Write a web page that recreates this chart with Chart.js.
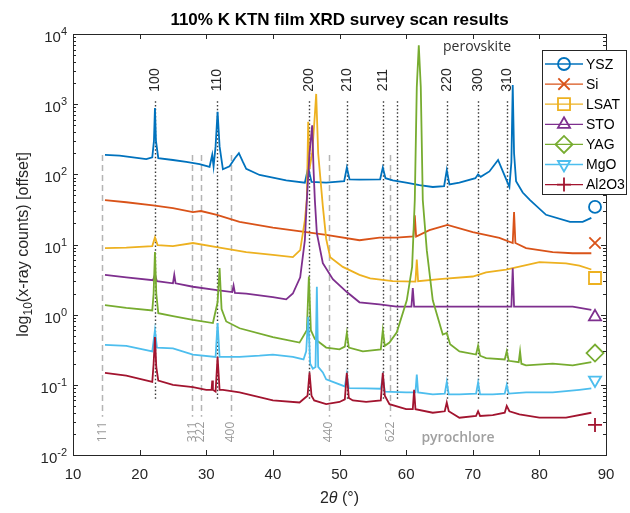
<!DOCTYPE html>
<html>
<head>
<meta charset="utf-8">
<script src="https://cdn.jsdelivr.net/npm/chart.js@4.4.1/dist/chart.umd.min.js"></script>
<style>
  html, body { margin: 0; padding: 0; background: #fff; }
</style>
</head>
<body>
<canvas id="xrd" width="630" height="513"></canvas>
<script>
// ===============================
// DATA
// ===============================
const seriesNames = ["YSZ", "Si", "LSAT", "STO", "YAG", "MgO", "Al2O3"];

const yszX = [14.8, 17, 19, 21, 21.9, 22.15, 22.3, 22.45, 22.8, 25, 27, 29, 30.5, 30.9, 31.1, 31.4, 31.7, 32.0, 32.5, 33.5, 34.3, 34.9, 35.5, 36.0, 38, 40, 42, 44.8, 45.3, 45.8, 48, 50.7, 51.1, 51.5, 53, 56.1, 56.5, 56.9, 58, 60, 62, 64, 65.7, 66.1, 66.5, 68, 70.4, 70.8, 71.2, 72.5, 73.8, 74.8, 75.5, 75.8, 76.0, 76.2, 76.5, 77.5, 78.6, 81, 84.6, 86.5, 87.8];
const yszY = [189, 185, 175, 165, 175, 300, 880, 300, 170, 160, 150, 140, 128, 190, 130, 250, 780, 250, 118, 130, 170, 200, 150, 120, 98, 90, 82, 76, 125, 78, 76, 80, 125, 85, 84, 85, 125, 88, 82, 76, 70, 66, 68, 115, 72, 76, 88, 100, 92, 110, 160, 95, 66, 150, 1870, 200, 80, 55, 43, 26.5, 21, 21, 24];

const siX = [14.8, 18, 22, 25, 28, 29.2, 31.6, 35, 40, 45, 48, 53, 56, 58.5, 61.1, 61.3, 61.5, 63.5, 66.2, 70, 74, 76.0, 76.2, 76.4, 78, 82, 85, 87.8];
const siY = [43, 40, 36, 33, 29, 30, 26.5, 21, 17.4, 15, 13.7, 11.5, 12.5, 12.5, 13, 26, 13, 16, 19, 15, 12.4, 10.5, 29, 10.5, 8.9, 7.8, 7.5, 7.5];

const lsatX = [14.8, 18, 21.9, 22.3, 22.7, 25, 28, 32, 36, 40, 43, 44.1, 44.8, 45.1, 45.3, 45.5, 45.9, 46.3, 46.5, 46.8, 47.5, 48, 48.6, 50.5, 53, 54.6, 58, 61.4, 61.6, 61.8, 65, 70, 72, 75, 80, 84, 86, 87.8];
const lsatY = [8.9, 9.0, 9.5, 12.6, 9.8, 9.5, 10.5, 9.0, 7.8, 7.1, 6.6, 8.3, 22, 45, 560, 120, 200, 700, 1400, 200, 35, 12, 6.6, 4.8, 3.7, 3.3, 3.0, 2.95, 6.1, 3.0, 3.2, 3.5, 4.0, 4.4, 5.6, 5.4, 5.0, 4.4];

const stoX = [14.8, 18, 22.0, 22.3, 22.6, 25.0, 25.2, 25.4, 28, 31.6, 33.9, 34.1, 34.3, 36, 40, 42, 43, 44.1, 44.8, 45.1, 45.5, 45.9, 46.1, 46.3, 46.6, 47.5, 49, 51.1, 53, 56, 58.6, 60.8, 61.0, 61.2, 65, 70, 75.8, 76.0, 76.2, 80, 85, 87.8];
const stoY = [3.7, 3.4, 3.1, 3.7, 3.0, 2.8, 3.7, 2.8, 2.5, 2.24, 2.1, 2.6, 2.05, 2.0, 1.78, 1.65, 2.0, 3.4, 11.5, 43, 200, 500, 120, 43, 14.5, 5.4, 3.2, 2.1, 1.5, 1.4, 1.3, 1.3, 2.4, 1.3, 1.3, 1.3, 1.3, 4.6, 1.3, 1.3, 1.3, 1.17];

const yagX = [14.8, 18, 21.9, 22.1, 22.3, 22.5, 22.8, 25, 28, 31.0, 31.7, 32.0, 32.3, 33, 35, 40, 44, 45.1, 45.4, 45.7, 46.3, 48, 50, 50.8, 51.1, 51.4, 53.5, 56.2, 56.5, 56.8, 57.5, 58.6, 60.1, 60.9, 61.3, 61.6, 61.9, 62.2, 62.5, 63.1, 64.0, 65.5, 66.1, 66.6, 68, 70.5, 70.8, 71.1, 72, 74.8, 75.1, 75.4, 76.9, 77.1, 77.3, 78, 82, 85, 87.8];
const yagY = [1.37, 1.25, 1.15, 2.0, 7.8, 2.0, 1.05, 0.95, 0.84, 0.76, 1.5, 4.6, 1.2, 0.8, 0.64, 0.48, 0.40, 0.6, 3.5, 0.6, 0.45, 0.34, 0.32, 0.35, 0.55, 0.34, 0.30, 0.32, 0.6, 0.36, 0.40, 0.56, 1.6, 4.8, 43, 1750, 6900, 1750, 43, 8.3, 1.6, 0.52, 0.55, 0.38, 0.30, 0.27, 0.36, 0.26, 0.24, 0.23, 0.30, 0.22, 0.21, 0.30, 0.2, 0.19, 0.2, 0.19, 0.21];

const mgoX = [14.8, 18, 21.9, 22.3, 22.6, 25, 28, 31.4, 31.7, 32.0, 35, 38, 40, 43, 44.6, 45.0, 45.3, 45.6, 46.0, 46.4, 46.6, 46.8, 47.5, 48, 50.8, 51.1, 51.4, 54, 56.2, 56.5, 56.8, 60, 61.4, 61.6, 61.8, 64, 65.8, 66.1, 66.4, 68, 70.5, 70.8, 71.1, 73, 74.8, 75.1, 75.4, 78, 82, 86, 87.8];
const mgoY = [0.37, 0.36, 0.30, 0.6, 0.34, 0.33, 0.27, 0.25, 0.76, 0.25, 0.25, 0.26, 0.27, 0.25, 0.23, 0.3, 0.93, 0.2, 0.17, 0.18, 2.5, 0.18, 0.15, 0.12, 0.095, 0.14, 0.09, 0.089, 0.088, 0.13, 0.08, 0.078, 0.078, 0.14, 0.078, 0.073, 0.075, 0.11, 0.073, 0.073, 0.075, 0.108, 0.073, 0.073, 0.075, 0.1, 0.075, 0.078, 0.078, 0.085, 0.089];

const alX = [14.8, 18, 21.9, 22.1, 22.3, 22.5, 22.8, 25, 28, 30, 30.8, 30.9, 31.0, 31.4, 31.7, 32.0, 32.5, 35, 40, 44, 45.2, 45.5, 45.8, 46.2, 48, 50, 50.8, 51.1, 51.4, 52, 54, 56.2, 56.5, 56.8, 57.5, 60, 61.0, 61.2, 61.4, 64, 65.8, 66.1, 66.4, 68, 70.5, 70.8, 71.1, 73, 74.8, 75.1, 75.5, 77, 80, 84, 87.8];
const alY = [0.148, 0.135, 0.11, 0.2, 0.48, 0.18, 0.115, 0.1, 0.093, 0.085, 0.085, 0.115, 0.085, 0.08, 0.25, 0.085, 0.085, 0.078, 0.06, 0.056, 0.07, 0.15, 0.07, 0.06, 0.053, 0.057, 0.062, 0.148, 0.065, 0.06, 0.057, 0.06, 0.148, 0.07, 0.053, 0.045, 0.045, 0.085, 0.045, 0.04, 0.042, 0.056, 0.042, 0.034, 0.036, 0.042, 0.036, 0.037, 0.04, 0.05, 0.042, 0.038, 0.034, 0.034, 0.04];

// end-of-trace substrate markers
const markerX = 88.35;
const markerY = [34.3, 10.5, 3.33, 0.93, 0.284, 0.117, 0.0268];

// reference reflections
const perovPos = [22.3, 31.6, 45.4, 51.1, 56.5, 58.6, 66.1, 70.8, 75.1];
const perovLabels = ["100", "110", "200", "210", "211", "", "220", "300", "310"];
const pyroPos = [14.4, 27.9, 29.2, 33.7, 48.4, 57.6];
const pyroLabels = ["111", "311", "222", "400", "440", "622"];

const xTicks = [10, 20, 30, 40, 50, 60, 70, 80, 90];
const yDecades = [-2, -1, 0, 1, 2, 3, 4];

// ===============================
// STYLE
// ===============================
const seriesColors = ["#0072BD", "#D95319", "#EDB120", "#7E2F8E", "#77AC30", "#4DBEEE", "#A2142F"];
const markerStyles = ["circle", "crossRot", "rect", "triangle", "rectRot", "triangle", "cross"];
const markerRotation = [0, 0, 0, 0, 0, 180, 0];
const markerRadius = [6, 8, 8.5, 7, 8.5, 7, 7];

const FONT = "'Liberation Sans', Arial, sans-serif";
const NOTE_FONT = "'Open Sans', 'Noto Sans', sans-serif";
const AXIS_COLOR = "#262626";

const PEROV_TOP = 1100, PEROV_BOTTOM = 0.061;
const PYRO_TOP = 189, PYRO_BOTTOM = 0.035;

// ===============================
// DATASETS
// ===============================
const xs = [yszX, siX, lsatX, stoX, yagX, mgoX, alX];
const ys = [yszY, siY, lsatY, stoY, yagY, mgoY, alY];

const datasets = seriesNames.map((name, i) => ({
  label: name,
  data: xs[i].map((x, k) => ({ x: x, y: ys[i][k] })),
  borderColor: seriesColors[i],
  borderWidth: 1.8,
  pointRadius: 0,
  fill: false,
  order: seriesNames.length - i
}));

datasets.push({
  label: "markers",
  data: markerY.map(v => ({ x: markerX, y: v })),
  showLine: false,
  pointStyle: markerStyles,
  pointRotation: markerRotation,
  pointRadius: markerRadius,
  pointBorderColor: seriesColors,
  pointBackgroundColor: "rgba(0,0,0,0)",
  pointBorderWidth: 1.8,
  order: -1
});

// ===============================
// DRAW HELPERS
// ===============================
function vline(ctx, px, y0, y1) {
  ctx.beginPath();
  ctx.moveTo(px, y0);
  ctx.lineTo(px, y1);
  ctx.stroke();
}

function rotatedText(ctx, text, x, y) {
  ctx.save();
  ctx.translate(x, y);
  ctx.rotate(-Math.PI / 2);
  ctx.textAlign = "center";
  ctx.textBaseline = "middle";
  ctx.fillText(text, 0, 0);
  ctx.restore();
}

const decorations = {
  id: "decorations",

  beforeDatasetsDraw(chart) {
    const { ctx, scales: { x, y } } = chart;
    ctx.save();

    // pyrochlore (dashed grey)
    ctx.strokeStyle = "#b4b4b4";
    ctx.lineWidth = 1.5;
    ctx.setLineDash([6, 4]);
    pyroPos.forEach(p => {
      const px = Math.round(x.getPixelForValue(p)) + 0.5;
      vline(ctx, px, y.getPixelForValue(PYRO_TOP), y.getPixelForValue(PYRO_BOTTOM));
    });

    // perovskite (dotted black)
    ctx.strokeStyle = "#3a3a3a";
    ctx.lineWidth = 1.4;
    ctx.setLineDash([1.5, 2.2]);
    perovPos.forEach(p => {
      const px = Math.round(x.getPixelForValue(p)) + 0.5;
      vline(ctx, px, y.getPixelForValue(PEROV_TOP), y.getPixelForValue(PEROV_BOTTOM));
    });

    ctx.restore();
  },

  afterDatasetsDraw(chart) {
    const { ctx, chartArea: a, scales: { x, y } } = chart;
    ctx.save();

    // axes box
    ctx.strokeStyle = AXIS_COLOR;
    ctx.lineWidth = 1;
    ctx.setLineDash([]);
    ctx.strokeRect(Math.round(a.left) + 0.5, Math.round(a.top) + 0.5,
      Math.round(a.right - a.left), Math.round(a.bottom - a.top));

    // x ticks, top and bottom
    xTicks.forEach(t => {
      const px = Math.round(x.getPixelForValue(t)) + 0.5;
      vline(ctx, px, a.bottom, a.bottom - 5);
      vline(ctx, px, a.top, a.top + 5);
    });

    // y ticks, major and minor, both sides
    yDecades.forEach(k => {
      for (let m = 1; m < 10; m++) {
        const v = m * Math.pow(10, k);
        if (v > 1e4) break;
        const py = Math.round(y.getPixelForValue(v)) + 0.5;
        const len = m === 1 ? 5 : 3;
        ctx.beginPath();
        ctx.moveTo(a.left, py); ctx.lineTo(a.left + len, py);
        ctx.moveTo(a.right, py); ctx.lineTo(a.right - len, py);
        ctx.stroke();
      }
    });

    // tick labels
    ctx.fillStyle = AXIS_COLOR;
    ctx.font = "15px " + FONT;
    ctx.textAlign = "center";
    ctx.textBaseline = "alphabetic";
    xTicks.forEach(t => ctx.fillText(String(t), x.getPixelForValue(t), 479));

    yDecades.forEach(k => {
      const py = y.getPixelForValue(Math.pow(10, k));
      const sup = String(k);
      ctx.font = "11px " + FONT;
      const sw = ctx.measureText(sup).width;
      ctx.textAlign = "left";
      ctx.fillText(sup, a.left - 6 - sw, py + 1);
      ctx.font = "15px " + FONT;
      ctx.textAlign = "right";
      ctx.fillText("10", a.left - 6 - sw, py + 8);
    });

    // y axis title with subscript
    ctx.save();
    ctx.translate(22, (a.top + a.bottom) / 2);
    ctx.rotate(-Math.PI / 2);
    ctx.textAlign = "left";
    ctx.font = "16px " + FONT;
    const w1 = ctx.measureText("log").width;
    ctx.font = "12px " + FONT;
    const w2 = ctx.measureText("10").width;
    ctx.font = "16px " + FONT;
    const w3 = ctx.measureText("(x-ray counts) [offset]").width;
    const x0 = -(w1 + w2 + w3) / 2;
    ctx.fillText("log", x0, 6);
    ctx.font = "12px " + FONT;
    ctx.fillText("10", x0 + w1, 10);
    ctx.font = "16px " + FONT;
    ctx.fillText("(x-ray counts) [offset]", x0 + w1 + w2, 6);
    ctx.restore();

    // x axis title: 2θ (°)
    ctx.font = "16px " + FONT;
    const p1 = ctx.measureText("2").width;
    const p3 = ctx.measureText(" (°)").width;
    ctx.font = "italic 16px " + FONT;
    const p2 = ctx.measureText("θ").width;
    let xs0 = (a.left + a.right) / 2 - (p1 + p2 + p3) / 2;
    ctx.textAlign = "left";
    ctx.font = "16px " + FONT;
    ctx.fillText("2", xs0, 503);
    ctx.font = "italic 16px " + FONT;
    ctx.fillText("θ", xs0 + p1, 503);
    ctx.font = "16px " + FONT;
    ctx.fillText(" (°)", xs0 + p1 + p2, 503);

    // title
    ctx.font = "bold 17px " + FONT;
    ctx.textAlign = "center";
    ctx.fillStyle = "#000";
    ctx.fillText("110% K KTN film XRD survey scan results", (a.left + a.right) / 2, 25);

    // perovskite reflection labels
    ctx.fillStyle = "#262626";
    ctx.font = "14px " + FONT;
    perovPos.forEach((p, i) => {
      if (perovLabels[i]) rotatedText(ctx, perovLabels[i], x.getPixelForValue(p), 80);
    });

    // pyrochlore reflection labels
    ctx.fillStyle = "#9a9a9a";
    ctx.font = "12px " + NOTE_FONT;
    pyroPos.forEach((p, i) => rotatedText(ctx, pyroLabels[i], x.getPixelForValue(p), 432));

    ctx.font = "600 14px " + NOTE_FONT;
    ctx.textAlign = "center";
    ctx.textBaseline = "middle";
    ctx.fillStyle = "#a0a0a0";
    ctx.fillText("pyrochlore", 458, 438);
    ctx.font = "14px " + NOTE_FONT;
    ctx.fillStyle = "#303030";
    ctx.fillText("perovskite", 477, 47);

    // legend
    const lx = 542.5, ly = 50.5, lw = 84, lh = 144;
    ctx.fillStyle = "#fff";
    ctx.fillRect(lx, ly, lw, lh);
    ctx.strokeStyle = AXIS_COLOR;
    ctx.lineWidth = 1;
    ctx.strokeRect(lx, ly, lw, lh);
    ctx.font = "14px " + FONT;
    ctx.textAlign = "left";
    ctx.textBaseline = "middle";
    seriesNames.forEach((name, i) => {
      const ry = 64 + i * 20.1;
      ctx.strokeStyle = seriesColors[i];
      ctx.lineWidth = 1.3;
      ctx.beginPath();
      ctx.moveTo(545, ry); ctx.lineTo(583, ry);
      ctx.stroke();
      ctx.lineWidth = 1.8;
      ctx.fillStyle = "rgba(0,0,0,0)";
      Chart.helpers.drawPoint(ctx, {
        pointStyle: markerStyles[i],
        rotation: markerRotation[i],
        radius: markerRadius[i],
        borderWidth: 1.8
      }, 564, ry);
      ctx.fillStyle = "#000";
      ctx.fillText(name, 586, ry + 1);
    });

    ctx.restore();
  }
};

// ===============================
// CHART
// ===============================
new Chart(document.getElementById("xrd"), {
  type: "line",
  data: { datasets: datasets },
  options: {
    responsive: false,
    animation: false,
    layout: { padding: { left: 73, right: 24, top: 34, bottom: 58 } },
    scales: {
      x: { type: "linear", min: 10, max: 90, display: false },
      y: { type: "logarithmic", min: 0.01, max: 10000, display: false }
    },
    elements: { line: { tension: 0 } },
    plugins: {
      legend: { display: false },
      tooltip: { enabled: false }
    }
  },
  plugins: [decorations]
});
</script>
</body>
</html>
